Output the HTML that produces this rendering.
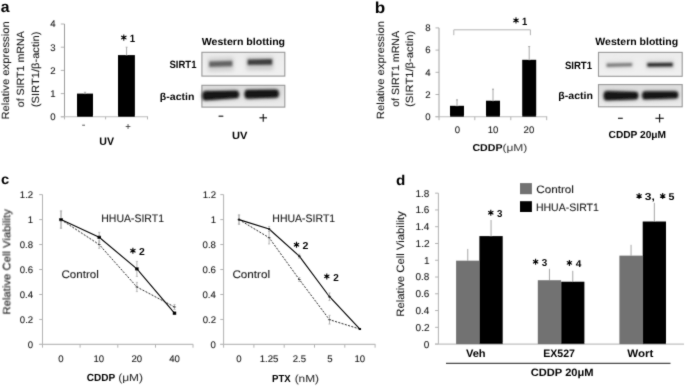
<!DOCTYPE html>
<html><head><meta charset="utf-8"><style>
html,body{margin:0;padding:0;background:#fff;}
body{width:685px;height:386px;overflow:hidden;}
svg{display:block;will-change:transform;text-rendering:geometricPrecision;font-family:"Liberation Sans",sans-serif;}
</style></head><body>
<svg width="685" height="386" viewBox="0 0 685 386">
<defs>
<filter id="bl12" x="-30%" y="-80%" width="160%" height="260%"><feGaussianBlur stdDeviation="1.2"/></filter>
<filter id="bl8" x="-30%" y="-80%" width="160%" height="260%"><feGaussianBlur stdDeviation="0.8"/></filter>
<filter id="soft" x="0" y="0" width="685" height="386" filterUnits="userSpaceOnUse"><feConvolveMatrix order="3" kernelMatrix="0.02 0.08 0.02 0.08 0.60 0.08 0.02 0.08 0.02" edgeMode="duplicate"/></filter>
<filter id="bl20" x="-30%" y="-80%" width="160%" height="260%"><feGaussianBlur stdDeviation="2.0"/></filter>
<filter id="bl10" x="-30%" y="-80%" width="160%" height="260%"><feGaussianBlur stdDeviation="1.0"/></filter>
<filter id="bl15" x="-30%" y="-80%" width="160%" height="260%"><feGaussianBlur stdDeviation="1.5"/></filter>
<linearGradient id="bg1" x1="0" y1="0" x2="0" y2="1"><stop offset="0" stop-color="#ebebeb"/><stop offset="1" stop-color="#f1f1f1"/></linearGradient>
<linearGradient id="bg2" x1="0" y1="0" x2="0" y2="1"><stop offset="0" stop-color="#dddddd"/><stop offset="1" stop-color="#ececec"/></linearGradient>
</defs>
<rect width="685" height="386" fill="#fff"/>
<g filter="url(#soft)">
<text x="0.74" y="12.00" font-size="15.40" font-weight="bold" fill="#000" textLength="8.76" lengthAdjust="spacingAndGlyphs">a</text>
<text transform="translate(8.60,119.52) rotate(-90)" x="0" y="0" font-size="10.40" font-weight="normal" fill="#141414" stroke="#141414" stroke-width="0.08" textLength="98.25" lengthAdjust="spacingAndGlyphs">Relative expression</text>
<text transform="translate(24.30,107.25) rotate(-90)" x="0" y="0" font-size="10.40" font-weight="normal" fill="#141414" stroke="#141414" stroke-width="0.08" textLength="75.97" lengthAdjust="spacingAndGlyphs">of SIRT1 mRNA</text>
<text transform="translate(39.20,107.19) rotate(-90)" x="0" y="0" font-size="10.40" font-weight="normal" fill="#141414" stroke="#141414" stroke-width="0.08" textLength="75.58" lengthAdjust="spacingAndGlyphs">(SIRT1/β-actin)</text>
<text x="50.24" y="120.10" font-size="9.60" font-weight="normal" fill="#141414" stroke="#141414" stroke-width="0.08">0</text>
<line x1="60.8" y1="116.8" x2="64.5" y2="116.8" stroke="#b2b2b2" stroke-width="1"/>
<text x="50.33" y="96.90" font-size="9.60" font-weight="normal" fill="#141414" stroke="#141414" stroke-width="0.08">1</text>
<line x1="60.8" y1="93.6" x2="64.5" y2="93.6" stroke="#b2b2b2" stroke-width="1"/>
<text x="50.34" y="73.70" font-size="9.60" font-weight="normal" fill="#141414" stroke="#141414" stroke-width="0.08">2</text>
<line x1="60.8" y1="70.4" x2="64.5" y2="70.4" stroke="#b2b2b2" stroke-width="1"/>
<text x="50.28" y="50.50" font-size="9.60" font-weight="normal" fill="#141414" stroke="#141414" stroke-width="0.08">3</text>
<line x1="60.8" y1="47.2" x2="64.5" y2="47.2" stroke="#b2b2b2" stroke-width="1"/>
<text x="50.14" y="27.30" font-size="9.60" font-weight="normal" fill="#141414" stroke="#141414" stroke-width="0.08">4</text>
<line x1="60.8" y1="24.0" x2="64.5" y2="24.0" stroke="#b2b2b2" stroke-width="1"/>
<line x1="64.5" y1="24.0" x2="64.5" y2="117.3" stroke="#9c9c9c" stroke-width="1"/>
<line x1="60.8" y1="116.8" x2="148.0" y2="116.8" stroke="#bcbcbc" stroke-width="1.1"/>
<line x1="64.5" y1="116.8" x2="64.5" y2="119.39999999999999" stroke="#b2b2b2" stroke-width="1"/>
<line x1="105.6" y1="116.8" x2="105.6" y2="119.39999999999999" stroke="#b2b2b2" stroke-width="1"/>
<line x1="147.5" y1="116.8" x2="147.5" y2="119.39999999999999" stroke="#b2b2b2" stroke-width="1"/>
<rect x="77.00" y="93.60" width="16.00" height="23.20" fill="#000"/>
<line x1="85" y1="93.6" x2="85" y2="92.208" stroke="#888" stroke-width="1"/>
<line x1="83.8" y1="92.208" x2="86.2" y2="92.208" stroke="#aaa" stroke-width="0.8"/>
<rect x="118.00" y="55.10" width="16.90" height="61.70" fill="#000"/>
<line x1="126.6" y1="55.1" x2="126.6" y2="47.0" stroke="#a8a8a8" stroke-width="1.0"/>
<line x1="125.6" y1="47.2" x2="127.6" y2="47.2" stroke="#b0b0b0" stroke-width="0.9"/>
<path d="M124.38 37.60L124.29 34.50L123.31 34.50L123.22 37.60ZM124.09 38.11L126.73 36.48L126.24 35.62L123.51 37.09ZM123.51 38.11L126.24 39.58L126.73 38.72L124.09 37.09ZM123.22 37.60L123.31 40.70L124.29 40.70L124.38 37.60ZM123.51 37.09L120.87 38.72L121.36 39.58L124.09 38.11ZM124.09 37.09L121.36 35.62L120.87 36.48L123.51 38.11Z" fill="#000"/><circle cx="123.8" cy="37.6" r="0.81" fill="#000"/>
<text x="129.69" y="41.80" font-size="10.60" font-weight="bold" fill="#000" textLength="5.38" lengthAdjust="spacingAndGlyphs">1</text>
<line x1="82.2" y1="125.2" x2="85.0" y2="125.2" stroke="#444" stroke-width="0.9"/>
<line x1="125.7" y1="126.5" x2="130.4" y2="126.5" stroke="#444" stroke-width="0.9"/>
<line x1="128.05" y1="124.1" x2="128.05" y2="128.9" stroke="#444" stroke-width="0.9"/>
<text x="99.26" y="144.90" font-size="10.80" font-weight="bold" fill="#000" textLength="14.71" lengthAdjust="spacingAndGlyphs">UV</text>
<text x="201.79" y="45.00" font-size="10.20" font-weight="bold" fill="#000" textLength="83.32" lengthAdjust="spacingAndGlyphs">Western blotting</text>
<text x="169.53" y="67.60" font-size="10.60" font-weight="bold" fill="#000" textLength="26.94" lengthAdjust="spacingAndGlyphs">SIRT1</text>
<text x="159.87" y="99.80" font-size="10.20" font-weight="bold" fill="#000" textLength="34.48" lengthAdjust="spacingAndGlyphs">β-actin</text>
<rect x="201.90" y="52.30" width="82.90" height="23.80" fill="url(#bg1)" stroke="#969696" stroke-width="1.1"/>
<path d="M208.20 58.00L233.40 57.20L233.40 70.70L208.20 71.50Z" fill="#cdcdcd" filter="url(#bl20)"/>
<path d="M209.20 61.60L232.40 60.80L232.40 66.20L209.20 67.00Z" fill="#646464" filter="url(#bl10)"/>
<path d="M246.60 57.00L273.20 56.70L273.20 69.70L246.60 70.00Z" fill="#c8c8c8" filter="url(#bl20)"/>
<path d="M247.60 59.40L272.20 59.10L272.20 64.70L247.60 65.00Z" fill="#3c3c3c" filter="url(#bl10)"/>
<rect x="201.90" y="85.30" width="82.90" height="21.80" fill="url(#bg2)" stroke="#969696" stroke-width="1.1"/>
<path d="M205.20 91.30 L236.20 90.80 Q238.90 90.80 238.90 94.45 Q238.90 98.10 236.20 98.10 L205.20 100.30 Q202.50 100.30 202.50 95.80 Q202.50 91.30 205.20 91.30Z" fill="#6a6a6a" filter="url(#bl20)"/>
<path d="M205.20 91.30 L236.20 90.80 Q238.90 90.80 238.90 94.45 Q238.90 98.10 236.20 98.10 L205.20 100.30 Q202.50 100.30 202.50 95.80 Q202.50 91.30 205.20 91.30Z" fill="#151515" filter="url(#bl10)"/>
<path d="M247.40 90.10 L276.00 89.80 Q278.70 89.80 278.70 93.65 Q278.70 97.50 276.00 97.50 L247.40 98.50 Q244.70 98.50 244.70 94.30 Q244.70 90.10 247.40 90.10Z" fill="#6a6a6a" filter="url(#bl20)"/>
<path d="M247.40 90.10 L276.00 89.80 Q278.70 89.80 278.70 93.65 Q278.70 97.50 276.00 97.50 L247.40 98.50 Q244.70 98.50 244.70 94.30 Q244.70 90.10 247.40 90.10Z" fill="#151515" filter="url(#bl10)"/>
<line x1="218.6" y1="116.2" x2="223.3" y2="116.2" stroke="#111" stroke-width="1.1"/>
<line x1="259.5" y1="117.8" x2="267.0" y2="117.8" stroke="#111" stroke-width="1.1"/>
<line x1="263.25" y1="114.0" x2="263.25" y2="121.7" stroke="#111" stroke-width="1.1"/>
<text x="231.93" y="138.50" font-size="10.60" font-weight="bold" fill="#000" textLength="15.44" lengthAdjust="spacingAndGlyphs">UV</text>
<text x="374.88" y="12.60" font-size="16.00" font-weight="bold" fill="#000" textLength="10.43" lengthAdjust="spacingAndGlyphs">b</text>
<text x="425.24" y="120.00" font-size="9.60" font-weight="normal" fill="#141414" stroke="#141414" stroke-width="0.08">0</text>
<line x1="435.5" y1="116.7" x2="439" y2="116.7" stroke="#b2b2b2" stroke-width="1"/>
<text x="425.34" y="97.80" font-size="9.60" font-weight="normal" fill="#141414" stroke="#141414" stroke-width="0.08">2</text>
<line x1="435.5" y1="94.5" x2="439" y2="94.5" stroke="#b2b2b2" stroke-width="1"/>
<text x="425.14" y="75.60" font-size="9.60" font-weight="normal" fill="#141414" stroke="#141414" stroke-width="0.08">4</text>
<line x1="435.5" y1="72.30000000000001" x2="439" y2="72.30000000000001" stroke="#b2b2b2" stroke-width="1"/>
<text x="425.28" y="53.40" font-size="9.60" font-weight="normal" fill="#141414" stroke="#141414" stroke-width="0.08">6</text>
<line x1="435.5" y1="50.10000000000001" x2="439" y2="50.10000000000001" stroke="#b2b2b2" stroke-width="1"/>
<text x="425.28" y="31.20" font-size="9.60" font-weight="normal" fill="#141414" stroke="#141414" stroke-width="0.08">8</text>
<line x1="435.5" y1="27.900000000000006" x2="439" y2="27.900000000000006" stroke="#b2b2b2" stroke-width="1"/>
<line x1="439" y1="27.900000000000006" x2="439" y2="117.2" stroke="#a0a0a0" stroke-width="1"/>
<line x1="435.5" y1="116.7" x2="547.2" y2="116.7" stroke="#bcbcbc" stroke-width="1.1"/>
<line x1="439" y1="116.7" x2="439" y2="120.2" stroke="#b2b2b2" stroke-width="1"/>
<line x1="474.8" y1="116.7" x2="474.8" y2="120.2" stroke="#b2b2b2" stroke-width="1"/>
<line x1="510.8" y1="116.7" x2="510.8" y2="120.2" stroke="#b2b2b2" stroke-width="1"/>
<line x1="546.7" y1="116.7" x2="546.7" y2="120.2" stroke="#b2b2b2" stroke-width="1"/>
<rect x="450.00" y="105.80" width="14.00" height="10.90" fill="#000"/>
<line x1="457" y1="105.8" x2="457" y2="99.6" stroke="#a8a8a8" stroke-width="1.0"/>
<line x1="456" y1="99.89999999999999" x2="458" y2="99.89999999999999" stroke="#a0a0a0" stroke-width="0.9"/>
<rect x="486.00" y="100.70" width="14.00" height="16.00" fill="#000"/>
<line x1="493" y1="100.7" x2="493" y2="88.9" stroke="#a8a8a8" stroke-width="1.0"/>
<line x1="492" y1="89.2" x2="494" y2="89.2" stroke="#a0a0a0" stroke-width="0.9"/>
<rect x="522.20" y="59.80" width="14.00" height="56.90" fill="#000"/>
<line x1="529.2" y1="59.8" x2="529.2" y2="46.3" stroke="#a8a8a8" stroke-width="1.0"/>
<line x1="528.2" y1="46.599999999999994" x2="530.2" y2="46.599999999999994" stroke="#a0a0a0" stroke-width="0.9"/>
<path d="M453.8 35.2V29.8H530.4V35.2" fill="none" stroke="#b2b2b2" stroke-width="1"/>
<path d="M516.59 20.40L516.49 17.30L515.51 17.30L515.41 20.40ZM516.29 20.91L518.93 19.28L518.44 18.42L515.71 19.89ZM515.71 20.91L518.44 22.38L518.93 21.52L516.29 19.89ZM515.41 20.40L515.51 23.50L516.49 23.50L516.59 20.40ZM515.71 19.89L513.07 21.52L513.56 22.38L516.29 20.91ZM516.29 19.89L513.56 18.42L513.07 19.28L515.71 20.91Z" fill="#000"/><circle cx="516.0" cy="20.4" r="0.81" fill="#000"/>
<text x="522.00" y="24.60" font-size="10.60" font-weight="bold" fill="#000" textLength="5.26" lengthAdjust="spacingAndGlyphs">1</text>
<text x="454.63" y="133.20" font-size="9.60" font-weight="normal" fill="#141414" stroke="#141414" stroke-width="0.08">0</text>
<text x="487.78" y="133.20" font-size="9.60" font-weight="normal" fill="#141414" stroke="#141414" stroke-width="0.08">10</text>
<text x="523.61" y="133.20" font-size="9.60" font-weight="normal" fill="#141414" stroke="#141414" stroke-width="0.08">20</text>
<text transform="translate(383.80,119.22) rotate(-90)" x="0" y="0" font-size="10.40" font-weight="normal" fill="#141414" stroke="#141414" stroke-width="0.08" textLength="98.15" lengthAdjust="spacingAndGlyphs">Relative expression</text>
<text transform="translate(399.20,106.85) rotate(-90)" x="0" y="0" font-size="10.40" font-weight="normal" fill="#141414" stroke="#141414" stroke-width="0.08" textLength="75.97" lengthAdjust="spacingAndGlyphs">of SIRT1 mRNA</text>
<text transform="translate(413.30,106.89) rotate(-90)" x="0" y="0" font-size="10.40" font-weight="normal" fill="#141414" stroke="#141414" stroke-width="0.08" textLength="76.19" lengthAdjust="spacingAndGlyphs">(SIRT1/β-actin)</text>
<text x="472.47" y="150.60" font-size="10.00" font-weight="bold" fill="#000" textLength="30.00" lengthAdjust="spacingAndGlyphs">CDDP</text>
<text x="502.46" y="150.60" font-size="10.00" font-weight="normal" fill="#444" stroke="#444" stroke-width="0.08" textLength="24.89" lengthAdjust="spacingAndGlyphs">(μM)</text>
<text x="595.39" y="44.60" font-size="10.40" font-weight="bold" fill="#000" textLength="82.71" lengthAdjust="spacingAndGlyphs">Western blotting</text>
<text x="564.92" y="68.60" font-size="10.60" font-weight="bold" fill="#000" textLength="27.14" lengthAdjust="spacingAndGlyphs">SIRT1</text>
<text x="558.37" y="99.00" font-size="10.20" font-weight="bold" fill="#000" textLength="34.59" lengthAdjust="spacingAndGlyphs">β-actin</text>
<rect x="598.50" y="52.40" width="83.70" height="23.90" fill="url(#bg1)" stroke="#969696" stroke-width="1.1"/>
<path d="M605.60 61.00L633.10 60.40L633.10 68.40L605.60 69.00Z" fill="#dedede" filter="url(#bl20)"/>
<path d="M606.60 63.50L632.10 62.90L632.10 66.30L606.60 66.90Z" fill="#7a7a7a" filter="url(#bl10)"/>
<path d="M646.30 60.50L673.80 60.30L673.80 68.80L646.30 69.00Z" fill="#d0d0d0" filter="url(#bl20)"/>
<path d="M647.30 62.90L672.80 62.70L672.80 66.50L647.30 66.70Z" fill="#2c2c2c" filter="url(#bl10)"/>
<rect x="598.50" y="84.60" width="83.70" height="22.20" fill="url(#bg2)" stroke="#969696" stroke-width="1.1"/>
<path d="M606.50 91.30 L635.50 91.90 Q638.20 91.90 638.20 95.60 Q638.20 99.30 635.50 99.30 L606.50 100.30 Q603.80 100.30 603.80 95.80 Q603.80 91.30 606.50 91.30Z" fill="#6a6a6a" filter="url(#bl20)"/>
<path d="M606.50 91.30 L635.50 91.90 Q638.20 91.90 638.20 95.60 Q638.20 99.30 635.50 99.30 L606.50 100.30 Q603.80 100.30 603.80 95.80 Q603.80 91.30 606.50 91.30Z" fill="#151515" filter="url(#bl10)"/>
<path d="M645.00 91.50 L675.40 91.50 Q678.10 91.50 678.10 94.90 Q678.10 98.30 675.40 98.30 L645.00 99.30 Q642.30 99.30 642.30 95.40 Q642.30 91.50 645.00 91.50Z" fill="#6a6a6a" filter="url(#bl20)"/>
<path d="M645.00 91.50 L675.40 91.50 Q678.10 91.50 678.10 94.90 Q678.10 98.30 675.40 98.30 L645.00 99.30 Q642.30 99.30 642.30 95.40 Q642.30 91.50 645.00 91.50Z" fill="#151515" filter="url(#bl10)"/>
<line x1="618.0" y1="118.3" x2="622.8" y2="118.3" stroke="#111" stroke-width="1.1"/>
<line x1="655.4" y1="118.3" x2="663.8" y2="118.3" stroke="#111" stroke-width="1.1"/>
<line x1="659.6" y1="114.1" x2="659.6" y2="122.5" stroke="#111" stroke-width="1.1"/>
<text x="608.58" y="138.20" font-size="10.20" font-weight="bold" fill="#000" textLength="57.49" lengthAdjust="spacingAndGlyphs">CDDP 20μM</text>
<text x="0.92" y="183.60" font-size="14.00" font-weight="bold" fill="#000" textLength="8.21" lengthAdjust="spacingAndGlyphs">c</text>
<text transform="translate(10.30,314.53) rotate(-90)" x="0" y="0" font-size="10.60" font-weight="normal" fill="#141414" stroke="#141414" stroke-width="0.08" textLength="105.35" lengthAdjust="spacingAndGlyphs">Relative Cell Viability</text>
<text transform="translate(403.90,316.73) rotate(-90)" x="0" y="0" font-size="10.60" font-weight="normal" fill="#141414" stroke="#141414" stroke-width="0.08" textLength="105.45" lengthAdjust="spacingAndGlyphs">Relative Cell Viability</text>
<text x="27.74" y="347.70" font-size="9.60" font-weight="normal" fill="#141414" stroke="#141414" stroke-width="0.08">0</text>
<line x1="39.2" y1="344.4" x2="42.5" y2="344.4" stroke="#b2b2b2" stroke-width="1"/>
<text x="19.84" y="322.74" font-size="9.60" font-weight="normal" fill="#141414" stroke="#141414" stroke-width="0.08">0.2</text>
<line x1="39.2" y1="319.44" x2="42.5" y2="319.44" stroke="#b2b2b2" stroke-width="1"/>
<text x="19.64" y="297.78" font-size="9.60" font-weight="normal" fill="#141414" stroke="#141414" stroke-width="0.08">0.4</text>
<line x1="39.2" y1="294.47999999999996" x2="42.5" y2="294.47999999999996" stroke="#b2b2b2" stroke-width="1"/>
<text x="19.78" y="272.82" font-size="9.60" font-weight="normal" fill="#141414" stroke="#141414" stroke-width="0.08">0.6</text>
<line x1="39.2" y1="269.52" x2="42.5" y2="269.52" stroke="#b2b2b2" stroke-width="1"/>
<text x="19.77" y="247.86" font-size="9.60" font-weight="normal" fill="#141414" stroke="#141414" stroke-width="0.08">0.8</text>
<line x1="39.2" y1="244.55999999999997" x2="42.5" y2="244.55999999999997" stroke="#b2b2b2" stroke-width="1"/>
<text x="27.83" y="222.90" font-size="9.60" font-weight="normal" fill="#141414" stroke="#141414" stroke-width="0.08">1</text>
<line x1="39.2" y1="219.59999999999997" x2="42.5" y2="219.59999999999997" stroke="#b2b2b2" stroke-width="1"/>
<text x="19.84" y="197.94" font-size="9.60" font-weight="normal" fill="#141414" stroke="#141414" stroke-width="0.08">1.2</text>
<line x1="39.2" y1="194.64" x2="42.5" y2="194.64" stroke="#b2b2b2" stroke-width="1"/>
<text x="210.54" y="347.70" font-size="9.60" font-weight="normal" fill="#141414" stroke="#141414" stroke-width="0.08">0</text>
<line x1="220.29999999999998" y1="344.4" x2="223.6" y2="344.4" stroke="#b2b2b2" stroke-width="1"/>
<text x="202.64" y="322.74" font-size="9.60" font-weight="normal" fill="#141414" stroke="#141414" stroke-width="0.08">0.2</text>
<line x1="220.29999999999998" y1="319.44" x2="223.6" y2="319.44" stroke="#b2b2b2" stroke-width="1"/>
<text x="202.44" y="297.78" font-size="9.60" font-weight="normal" fill="#141414" stroke="#141414" stroke-width="0.08">0.4</text>
<line x1="220.29999999999998" y1="294.47999999999996" x2="223.6" y2="294.47999999999996" stroke="#b2b2b2" stroke-width="1"/>
<text x="202.58" y="272.82" font-size="9.60" font-weight="normal" fill="#141414" stroke="#141414" stroke-width="0.08">0.6</text>
<line x1="220.29999999999998" y1="269.52" x2="223.6" y2="269.52" stroke="#b2b2b2" stroke-width="1"/>
<text x="202.57" y="247.86" font-size="9.60" font-weight="normal" fill="#141414" stroke="#141414" stroke-width="0.08">0.8</text>
<line x1="220.29999999999998" y1="244.55999999999997" x2="223.6" y2="244.55999999999997" stroke="#b2b2b2" stroke-width="1"/>
<text x="210.63" y="222.90" font-size="9.60" font-weight="normal" fill="#141414" stroke="#141414" stroke-width="0.08">1</text>
<line x1="220.29999999999998" y1="219.59999999999997" x2="223.6" y2="219.59999999999997" stroke="#b2b2b2" stroke-width="1"/>
<text x="202.64" y="197.94" font-size="9.60" font-weight="normal" fill="#141414" stroke="#141414" stroke-width="0.08">1.2</text>
<line x1="220.29999999999998" y1="194.64" x2="223.6" y2="194.64" stroke="#b2b2b2" stroke-width="1"/>
<line x1="42.5" y1="194.64" x2="42.5" y2="344.4" stroke="#b2b2b2" stroke-width="1"/>
<line x1="223.6" y1="194.64" x2="223.6" y2="344.4" stroke="#b2b2b2" stroke-width="1"/>
<line x1="39.2" y1="344.4" x2="193.2" y2="344.4" stroke="#bcbcbc" stroke-width="1.1"/>
<line x1="220.3" y1="344.4" x2="375.4" y2="344.4" stroke="#bcbcbc" stroke-width="1.1"/>
<line x1="42.5" y1="344.4" x2="42.5" y2="347.7" stroke="#b2b2b2" stroke-width="1"/>
<line x1="80.1" y1="344.4" x2="80.1" y2="347.7" stroke="#b2b2b2" stroke-width="1"/>
<line x1="117.8" y1="344.4" x2="117.8" y2="347.7" stroke="#b2b2b2" stroke-width="1"/>
<line x1="155.5" y1="344.4" x2="155.5" y2="347.7" stroke="#b2b2b2" stroke-width="1"/>
<line x1="193.0" y1="344.4" x2="193.0" y2="347.7" stroke="#b2b2b2" stroke-width="1"/>
<line x1="223.6" y1="344.4" x2="223.6" y2="347.7" stroke="#b2b2b2" stroke-width="1"/>
<line x1="253.9" y1="344.4" x2="253.9" y2="347.7" stroke="#b2b2b2" stroke-width="1"/>
<line x1="284.2" y1="344.4" x2="284.2" y2="347.7" stroke="#b2b2b2" stroke-width="1"/>
<line x1="314.5" y1="344.4" x2="314.5" y2="347.7" stroke="#b2b2b2" stroke-width="1"/>
<line x1="344.8" y1="344.4" x2="344.8" y2="347.7" stroke="#b2b2b2" stroke-width="1"/>
<line x1="375.1" y1="344.4" x2="375.1" y2="347.7" stroke="#b2b2b2" stroke-width="1"/>
<line x1="61.0" y1="210.9888" x2="61.0" y2="228.21119999999996" stroke="#b4b4b4" stroke-width="1.0"/>
<line x1="59.9" y1="210.9888" x2="62.1" y2="210.9888" stroke="#b4b4b4" stroke-width="0.8"/>
<line x1="59.9" y1="228.21119999999996" x2="62.1" y2="228.21119999999996" stroke="#b4b4b4" stroke-width="0.8"/>
<line x1="99.2" y1="232.32959999999997" x2="99.2" y2="242.31359999999998" stroke="#b4b4b4" stroke-width="1.0"/>
<line x1="98.10000000000001" y1="232.32959999999997" x2="100.3" y2="232.32959999999997" stroke="#b4b4b4" stroke-width="0.8"/>
<line x1="98.10000000000001" y1="242.31359999999998" x2="100.3" y2="242.31359999999998" stroke="#b4b4b4" stroke-width="0.8"/>
<line x1="136.9" y1="261.40799999999996" x2="136.9" y2="276.384" stroke="#b4b4b4" stroke-width="1.0"/>
<line x1="135.8" y1="261.40799999999996" x2="138.0" y2="261.40799999999996" stroke="#b4b4b4" stroke-width="0.8"/>
<line x1="135.8" y1="276.384" x2="138.0" y2="276.384" stroke="#b4b4b4" stroke-width="0.8"/>
<line x1="61.0" y1="210.9888" x2="61.0" y2="228.21119999999996" stroke="#b4b4b4" stroke-width="1.0"/>
<line x1="59.9" y1="210.9888" x2="62.1" y2="210.9888" stroke="#b4b4b4" stroke-width="0.8"/>
<line x1="59.9" y1="228.21119999999996" x2="62.1" y2="228.21119999999996" stroke="#b4b4b4" stroke-width="0.8"/>
<line x1="99.2" y1="240.81599999999997" x2="99.2" y2="248.30399999999997" stroke="#b4b4b4" stroke-width="1.0"/>
<line x1="98.10000000000001" y1="240.81599999999997" x2="100.3" y2="240.81599999999997" stroke="#b4b4b4" stroke-width="0.8"/>
<line x1="98.10000000000001" y1="248.30399999999997" x2="100.3" y2="248.30399999999997" stroke="#b4b4b4" stroke-width="0.8"/>
<line x1="136.9" y1="282.3744" x2="136.9" y2="291.6096" stroke="#b4b4b4" stroke-width="1.0"/>
<line x1="135.8" y1="282.3744" x2="138.0" y2="282.3744" stroke="#b4b4b4" stroke-width="0.8"/>
<line x1="135.8" y1="291.6096" x2="138.0" y2="291.6096" stroke="#b4b4b4" stroke-width="0.8"/>
<line x1="174.5" y1="304.464" x2="174.5" y2="309.45599999999996" stroke="#b4b4b4" stroke-width="1.0"/>
<line x1="173.4" y1="304.464" x2="175.6" y2="304.464" stroke="#b4b4b4" stroke-width="0.8"/>
<line x1="173.4" y1="309.45599999999996" x2="175.6" y2="309.45599999999996" stroke="#b4b4b4" stroke-width="0.8"/>
<polyline points="61.00,219.60 99.20,244.56 136.90,286.99 174.50,306.96" fill="none" stroke="#111" stroke-width="0.9" stroke-dasharray="2.0 1.4"/>
<line x1="59.7" y1="219.59999999999997" x2="62.3" y2="219.59999999999997" stroke="#333" stroke-width="1.0"/>
<line x1="97.9" y1="244.55999999999997" x2="100.5" y2="244.55999999999997" stroke="#333" stroke-width="1.0"/>
<line x1="135.6" y1="286.99199999999996" x2="138.20000000000002" y2="286.99199999999996" stroke="#333" stroke-width="1.0"/>
<line x1="173.2" y1="306.96" x2="175.8" y2="306.96" stroke="#333" stroke-width="1.0"/>
<polyline points="61.00,219.60 99.20,237.32 136.90,268.90 174.50,313.20" fill="none" stroke="#000" stroke-width="1.1"/>
<rect x="59.30" y="218.00" width="3.40" height="3.20" fill="#000"/>
<rect x="97.50" y="235.72" width="3.40" height="3.20" fill="#000"/>
<rect x="135.20" y="267.30" width="3.40" height="3.20" fill="#000"/>
<rect x="172.80" y="311.60" width="3.40" height="3.20" fill="#000"/>
<line x1="239.0" y1="214.98239999999998" x2="239.0" y2="224.2176" stroke="#b4b4b4" stroke-width="1.0"/>
<line x1="237.9" y1="214.98239999999998" x2="240.1" y2="214.98239999999998" stroke="#b4b4b4" stroke-width="0.8"/>
<line x1="237.9" y1="224.2176" x2="240.1" y2="224.2176" stroke="#b4b4b4" stroke-width="0.8"/>
<line x1="269.1" y1="226.46399999999997" x2="269.1" y2="231.45599999999996" stroke="#b4b4b4" stroke-width="1.0"/>
<line x1="268.0" y1="226.46399999999997" x2="270.20000000000005" y2="226.46399999999997" stroke="#b4b4b4" stroke-width="0.8"/>
<line x1="268.0" y1="231.45599999999996" x2="270.20000000000005" y2="231.45599999999996" stroke="#b4b4b4" stroke-width="0.8"/>
<line x1="299.3" y1="254.1696" x2="299.3" y2="258.16319999999996" stroke="#b4b4b4" stroke-width="1.0"/>
<line x1="298.2" y1="254.1696" x2="300.40000000000003" y2="254.1696" stroke="#b4b4b4" stroke-width="0.8"/>
<line x1="298.2" y1="258.16319999999996" x2="300.40000000000003" y2="258.16319999999996" stroke="#b4b4b4" stroke-width="0.8"/>
<line x1="329.5" y1="292.9824" x2="329.5" y2="300.4704" stroke="#b4b4b4" stroke-width="1.0"/>
<line x1="328.4" y1="292.9824" x2="330.6" y2="292.9824" stroke="#b4b4b4" stroke-width="0.8"/>
<line x1="328.4" y1="300.4704" x2="330.6" y2="300.4704" stroke="#b4b4b4" stroke-width="0.8"/>
<line x1="239.0" y1="214.98239999999998" x2="239.0" y2="224.2176" stroke="#b4b4b4" stroke-width="1.0"/>
<line x1="237.9" y1="214.98239999999998" x2="240.1" y2="214.98239999999998" stroke="#b4b4b4" stroke-width="0.8"/>
<line x1="237.9" y1="224.2176" x2="240.1" y2="224.2176" stroke="#b4b4b4" stroke-width="0.8"/>
<line x1="269.1" y1="231.45599999999996" x2="269.1" y2="243.93599999999998" stroke="#b4b4b4" stroke-width="1.0"/>
<line x1="268.0" y1="231.45599999999996" x2="270.20000000000005" y2="231.45599999999996" stroke="#b4b4b4" stroke-width="0.8"/>
<line x1="268.0" y1="243.93599999999998" x2="270.20000000000005" y2="243.93599999999998" stroke="#b4b4b4" stroke-width="0.8"/>
<line x1="299.3" y1="277.50719999999995" x2="299.3" y2="281.50079999999997" stroke="#b4b4b4" stroke-width="1.0"/>
<line x1="298.2" y1="277.50719999999995" x2="300.40000000000003" y2="277.50719999999995" stroke="#b4b4b4" stroke-width="0.8"/>
<line x1="298.2" y1="281.50079999999997" x2="300.40000000000003" y2="281.50079999999997" stroke="#b4b4b4" stroke-width="0.8"/>
<line x1="329.5" y1="315.3216" x2="329.5" y2="324.0576" stroke="#b4b4b4" stroke-width="1.0"/>
<line x1="328.4" y1="315.3216" x2="330.6" y2="315.3216" stroke="#b4b4b4" stroke-width="0.8"/>
<line x1="328.4" y1="324.0576" x2="330.6" y2="324.0576" stroke="#b4b4b4" stroke-width="0.8"/>
<polyline points="239.00,219.60 269.10,237.70 299.30,279.50 329.50,319.69 359.90,329.05" fill="none" stroke="#111" stroke-width="0.9" stroke-dasharray="2.0 1.4"/>
<line x1="237.7" y1="219.59999999999997" x2="240.3" y2="219.59999999999997" stroke="#333" stroke-width="1.0"/>
<line x1="267.8" y1="237.69599999999997" x2="270.40000000000003" y2="237.69599999999997" stroke="#333" stroke-width="1.0"/>
<line x1="298.0" y1="279.50399999999996" x2="300.6" y2="279.50399999999996" stroke="#333" stroke-width="1.0"/>
<line x1="328.2" y1="319.6896" x2="330.8" y2="319.6896" stroke="#333" stroke-width="1.0"/>
<line x1="358.59999999999997" y1="329.0496" x2="361.2" y2="329.0496" stroke="#333" stroke-width="1.0"/>
<polyline points="239.00,219.60 269.10,228.96 299.30,256.17 329.50,296.73 359.90,329.05" fill="none" stroke="#000" stroke-width="1.15"/>
<rect x="237.95" y="218.65" width="2.10" height="1.90" fill="#000"/>
<rect x="268.05" y="228.01" width="2.10" height="1.90" fill="#000"/>
<rect x="298.25" y="255.22" width="2.10" height="1.90" fill="#000"/>
<rect x="328.45" y="295.78" width="2.10" height="1.90" fill="#000"/>
<rect x="358.85" y="328.10" width="2.10" height="1.90" fill="#000"/>
<text x="58.33" y="362.30" font-size="9.60" font-weight="normal" fill="#141414" stroke="#141414" stroke-width="0.08">0</text>
<text x="93.48" y="362.30" font-size="9.60" font-weight="normal" fill="#141414" stroke="#141414" stroke-width="0.08">10</text>
<text x="131.41" y="362.30" font-size="9.60" font-weight="normal" fill="#141414" stroke="#141414" stroke-width="0.08">20</text>
<text x="169.24" y="362.30" font-size="9.60" font-weight="normal" fill="#141414" stroke="#141414" stroke-width="0.08">40</text>
<text x="236.23" y="362.10" font-size="9.60" font-weight="normal" fill="#141414" stroke="#141414" stroke-width="0.08">0</text>
<text x="259.69" y="362.10" font-size="9.60" font-weight="normal" fill="#141414" stroke="#141414" stroke-width="0.08">1.25</text>
<text x="292.69" y="362.10" font-size="9.60" font-weight="normal" fill="#141414" stroke="#141414" stroke-width="0.08">2.5</text>
<text x="327.34" y="362.10" font-size="9.60" font-weight="normal" fill="#141414" stroke="#141414" stroke-width="0.08">5</text>
<text x="354.48" y="362.10" font-size="9.60" font-weight="normal" fill="#141414" stroke="#141414" stroke-width="0.08">10</text>
<text x="101.24" y="221.80" font-size="11.00" font-weight="normal" fill="#141414" stroke="#141414" stroke-width="0.08" textLength="62.77" lengthAdjust="spacingAndGlyphs">HHUA-SIRT1</text>
<text x="61.51" y="277.70" font-size="10.90" font-weight="normal" fill="#141414" stroke="#141414" stroke-width="0.08" textLength="37.26" lengthAdjust="spacingAndGlyphs">Control</text>
<path d="M133.53 250.80L133.43 247.80L132.37 247.80L132.27 250.80ZM133.22 251.35L135.76 249.76L135.23 248.84L132.59 250.25ZM132.59 251.35L135.23 252.76L135.76 251.84L133.22 250.25ZM132.27 250.80L132.37 253.80L133.43 253.80L133.53 250.80ZM132.59 250.25L130.04 251.84L130.57 252.76L133.22 251.35ZM133.22 250.25L130.57 248.84L130.04 249.76L132.59 251.35Z" fill="#000"/><circle cx="132.9" cy="250.8" r="0.87" fill="#000"/>
<text x="138.94" y="254.80" font-size="10.00" font-weight="bold" fill="#000" textLength="5.78" lengthAdjust="spacingAndGlyphs">2</text>
<text x="272.34" y="221.80" font-size="11.00" font-weight="normal" fill="#141414" stroke="#141414" stroke-width="0.08" textLength="62.87" lengthAdjust="spacingAndGlyphs">HHUA-SIRT1</text>
<text x="232.41" y="277.70" font-size="10.90" font-weight="normal" fill="#141414" stroke="#141414" stroke-width="0.08" textLength="37.68" lengthAdjust="spacingAndGlyphs">Control</text>
<path d="M297.13 244.80L297.03 241.80L295.97 241.80L295.87 244.80ZM296.81 245.35L299.36 243.76L298.83 242.84L296.19 244.25ZM296.19 245.35L298.83 246.76L299.36 245.84L296.81 244.25ZM295.87 244.80L295.97 247.80L297.03 247.80L297.13 244.80ZM296.19 244.25L293.64 245.84L294.17 246.76L296.81 245.35ZM296.81 244.25L294.17 242.84L293.64 243.76L296.19 245.35Z" fill="#000"/><circle cx="296.5" cy="244.8" r="0.87" fill="#000"/>
<text x="302.43" y="249.00" font-size="10.00" font-weight="bold" fill="#000" textLength="5.89" lengthAdjust="spacingAndGlyphs">2</text>
<path d="M327.43 276.40L327.33 273.40L326.27 273.40L326.17 276.40ZM327.12 276.95L329.66 275.36L329.13 274.44L326.49 275.85ZM326.49 276.95L329.13 278.36L329.66 277.44L327.12 275.85ZM326.17 276.40L326.27 279.40L327.33 279.40L327.43 276.40ZM326.49 275.85L323.94 277.44L324.47 278.36L327.12 276.95ZM327.12 275.85L324.47 274.44L323.94 275.36L326.49 276.95Z" fill="#000"/><circle cx="326.8" cy="276.4" r="0.87" fill="#000"/>
<text x="333.25" y="280.60" font-size="10.00" font-weight="bold" fill="#000" textLength="5.54" lengthAdjust="spacingAndGlyphs">2</text>
<text x="86.79" y="380.90" font-size="10.30" font-weight="bold" fill="#000" textLength="28.35" lengthAdjust="spacingAndGlyphs">CDDP</text>
<text x="118.16" y="380.90" font-size="10.30" font-weight="normal" fill="#333" stroke="#333" stroke-width="0.08" textLength="24.78" lengthAdjust="spacingAndGlyphs">(μM)</text>
<text x="272.06" y="382.00" font-size="10.30" font-weight="bold" fill="#000" textLength="18.73" lengthAdjust="spacingAndGlyphs">PTX</text>
<text x="294.66" y="382.00" font-size="10.30" font-weight="normal" fill="#333" stroke="#333" stroke-width="0.08" textLength="24.37" lengthAdjust="spacingAndGlyphs">(nM)</text>
<text x="396.07" y="184.60" font-size="14.00" font-weight="bold" fill="#000" textLength="9.33" lengthAdjust="spacingAndGlyphs">d</text>
<text x="423.83" y="347.54" font-size="10.00" font-weight="normal" fill="#141414" stroke="#141414" stroke-width="0.08">0</text>
<line x1="435.09999999999997" y1="344.1" x2="438.4" y2="344.1" stroke="#b2b2b2" stroke-width="1"/>
<text x="415.60" y="330.77" font-size="10.00" font-weight="normal" fill="#141414" stroke="#141414" stroke-width="0.08">0.2</text>
<line x1="435.09999999999997" y1="327.33000000000004" x2="438.4" y2="327.33000000000004" stroke="#b2b2b2" stroke-width="1"/>
<text x="415.39" y="314.00" font-size="10.00" font-weight="normal" fill="#141414" stroke="#141414" stroke-width="0.08">0.4</text>
<line x1="435.09999999999997" y1="310.56" x2="438.4" y2="310.56" stroke="#b2b2b2" stroke-width="1"/>
<text x="415.54" y="297.23" font-size="10.00" font-weight="normal" fill="#141414" stroke="#141414" stroke-width="0.08">0.6</text>
<line x1="435.09999999999997" y1="293.79" x2="438.4" y2="293.79" stroke="#b2b2b2" stroke-width="1"/>
<text x="415.53" y="280.46" font-size="10.00" font-weight="normal" fill="#141414" stroke="#141414" stroke-width="0.08">0.8</text>
<line x1="435.09999999999997" y1="277.02000000000004" x2="438.4" y2="277.02000000000004" stroke="#b2b2b2" stroke-width="1"/>
<text x="423.93" y="263.69" font-size="10.00" font-weight="normal" fill="#141414" stroke="#141414" stroke-width="0.08">1</text>
<line x1="435.09999999999997" y1="260.25" x2="438.4" y2="260.25" stroke="#b2b2b2" stroke-width="1"/>
<text x="415.60" y="246.92" font-size="10.00" font-weight="normal" fill="#141414" stroke="#141414" stroke-width="0.08">1.2</text>
<line x1="435.09999999999997" y1="243.48000000000002" x2="438.4" y2="243.48000000000002" stroke="#b2b2b2" stroke-width="1"/>
<text x="415.39" y="230.15" font-size="10.00" font-weight="normal" fill="#141414" stroke="#141414" stroke-width="0.08">1.4</text>
<line x1="435.09999999999997" y1="226.71000000000004" x2="438.4" y2="226.71000000000004" stroke="#b2b2b2" stroke-width="1"/>
<text x="415.54" y="213.38" font-size="10.00" font-weight="normal" fill="#141414" stroke="#141414" stroke-width="0.08">1.6</text>
<line x1="435.09999999999997" y1="209.94000000000003" x2="438.4" y2="209.94000000000003" stroke="#b2b2b2" stroke-width="1"/>
<text x="415.53" y="196.61" font-size="10.00" font-weight="normal" fill="#141414" stroke="#141414" stroke-width="0.08">1.8</text>
<line x1="435.09999999999997" y1="193.17000000000002" x2="438.4" y2="193.17000000000002" stroke="#b2b2b2" stroke-width="1"/>
<line x1="438.4" y1="193.17000000000002" x2="438.4" y2="344.1" stroke="#b2b2b2" stroke-width="1"/>
<line x1="435" y1="344.1" x2="684" y2="344.1" stroke="#c0c0c0" stroke-width="1.3"/>
<line x1="467.75" y1="260.66925000000003" x2="467.75" y2="248.93025000000003" stroke="#9c9c9c" stroke-width="0.9"/>
<rect x="456.10" y="260.67" width="23.30" height="83.43" fill="#727272"/>
<line x1="491.04999999999995" y1="236.10120000000003" x2="491.04999999999995" y2="220.00200000000004" stroke="#9c9c9c" stroke-width="0.9"/>
<rect x="479.40" y="236.10" width="23.30" height="108.00" fill="#000"/>
<line x1="549.4499999999999" y1="280.20630000000006" x2="549.4499999999999" y2="268.8027000000001" stroke="#9c9c9c" stroke-width="0.9"/>
<rect x="537.80" y="280.21" width="23.30" height="63.89" fill="#727272"/>
<line x1="572.75" y1="281.71560000000005" x2="572.75" y2="270.81510000000003" stroke="#9c9c9c" stroke-width="0.9"/>
<rect x="561.10" y="281.72" width="23.30" height="62.38" fill="#000"/>
<line x1="631.05" y1="255.63825000000003" x2="631.05" y2="244.82160000000002" stroke="#9c9c9c" stroke-width="0.9"/>
<rect x="619.40" y="255.64" width="23.30" height="88.46" fill="#727272"/>
<line x1="654.35" y1="221.51130000000003" x2="654.35" y2="202.81275000000005" stroke="#9c9c9c" stroke-width="0.9"/>
<rect x="642.70" y="221.51" width="23.30" height="122.59" fill="#000"/>
<text x="465.93" y="356.90" font-size="10.80" font-weight="bold" fill="#000" textLength="19.74" lengthAdjust="spacingAndGlyphs">Veh</text>
<text x="543.19" y="356.80" font-size="10.80" font-weight="bold" fill="#000" textLength="31.77" lengthAdjust="spacingAndGlyphs">EX527</text>
<text x="627.39" y="356.80" font-size="10.80" font-weight="bold" fill="#000" textLength="26.05" lengthAdjust="spacingAndGlyphs">Wort</text>
<line x1="446" y1="363.3" x2="670.5" y2="363.3" stroke="#000" stroke-width="0.9"/>
<text x="530.75" y="375.80" font-size="10.70" font-weight="bold" fill="#000" textLength="62.80" lengthAdjust="spacingAndGlyphs">CDDP 20μM</text>
<path d="M491.43 212.70L491.33 209.70L490.27 209.70L490.17 212.70ZM491.12 213.25L493.66 211.66L493.13 210.74L490.49 212.15ZM490.49 213.25L493.13 214.66L493.66 213.74L491.12 212.15ZM490.17 212.70L490.27 215.70L491.33 215.70L491.43 212.70ZM490.49 212.15L487.94 213.74L488.47 214.66L491.12 213.25ZM491.12 212.15L488.47 210.74L487.94 211.66L490.49 213.25Z" fill="#000"/><circle cx="490.8" cy="212.7" r="0.87" fill="#000"/>
<text x="496.98" y="216.90" font-size="10.00" font-weight="bold" fill="#000" textLength="5.37" lengthAdjust="spacingAndGlyphs">3</text>
<path d="M536.23 261.70L536.13 258.70L535.07 258.70L534.97 261.70ZM535.92 262.25L538.46 260.66L537.93 259.74L535.28 261.15ZM535.28 262.25L537.93 263.66L538.46 262.74L535.92 261.15ZM534.97 261.70L535.07 264.70L536.13 264.70L536.23 261.70ZM535.28 261.15L532.74 262.74L533.27 263.66L535.92 262.25ZM535.92 261.15L533.27 259.74L532.74 260.66L535.28 262.25Z" fill="#000"/><circle cx="535.6" cy="261.7" r="0.87" fill="#000"/>
<text x="541.87" y="265.80" font-size="10.00" font-weight="bold" fill="#000" textLength="5.48" lengthAdjust="spacingAndGlyphs">3</text>
<path d="M570.03 262.90L569.93 259.90L568.87 259.90L568.77 262.90ZM569.72 263.45L572.26 261.86L571.73 260.94L569.08 262.35ZM569.08 263.45L571.73 264.86L572.26 263.94L569.72 262.35ZM568.77 262.90L568.87 265.90L569.93 265.90L570.03 262.90ZM569.08 262.35L566.54 263.94L567.07 264.86L569.72 263.45ZM569.72 262.35L567.07 260.94L566.54 261.86L569.08 263.45Z" fill="#000"/><circle cx="569.4" cy="262.9" r="0.87" fill="#000"/>
<text x="575.65" y="266.80" font-size="10.00" font-weight="bold" fill="#000" textLength="5.61" lengthAdjust="spacingAndGlyphs">4</text>
<rect x="520.00" y="183.10" width="11.90" height="11.10" fill="#727272"/>
<rect x="520.00" y="201.20" width="11.90" height="10.80" fill="#000"/>
<text x="536.20" y="193.10" font-size="10.80" font-weight="normal" fill="#141414" stroke="#141414" stroke-width="0.08" textLength="37.78" lengthAdjust="spacingAndGlyphs">Control</text>
<text x="535.94" y="211.20" font-size="10.80" font-weight="normal" fill="#141414" stroke="#141414" stroke-width="0.08" textLength="62.87" lengthAdjust="spacingAndGlyphs">HHUA-SIRT1</text>
<path d="M639.73 196.00L639.63 193.00L638.57 193.00L638.47 196.00ZM639.42 196.55L641.96 194.96L641.43 194.04L638.78 195.45ZM638.78 196.55L641.43 197.96L641.96 197.04L639.42 195.45ZM638.47 196.00L638.57 199.00L639.63 199.00L639.73 196.00ZM638.78 195.45L636.24 197.04L636.77 197.96L639.42 196.55ZM639.42 195.45L636.77 194.04L636.24 194.96L638.78 196.55Z" fill="#000"/><circle cx="639.1" cy="196.0" r="0.87" fill="#000"/>
<text x="644.83" y="200.00" font-size="10.00" font-weight="bold" fill="#000" textLength="9.97" lengthAdjust="spacingAndGlyphs">3,</text>
<path d="M663.33 196.00L663.23 193.00L662.17 193.00L662.07 196.00ZM663.02 196.55L665.56 194.96L665.03 194.04L662.38 195.45ZM662.38 196.55L665.03 197.96L665.56 197.04L663.02 195.45ZM662.07 196.00L662.17 199.00L663.23 199.00L663.33 196.00ZM662.38 195.45L659.84 197.04L660.37 197.96L663.02 196.55ZM663.02 195.45L660.37 194.04L659.84 194.96L662.38 196.55Z" fill="#000"/><circle cx="662.7" cy="196.0" r="0.87" fill="#000"/>
<text x="668.47" y="200.00" font-size="10.00" font-weight="bold" fill="#000" textLength="5.92" lengthAdjust="spacingAndGlyphs">5</text>
</g>
</svg>
</body></html>
